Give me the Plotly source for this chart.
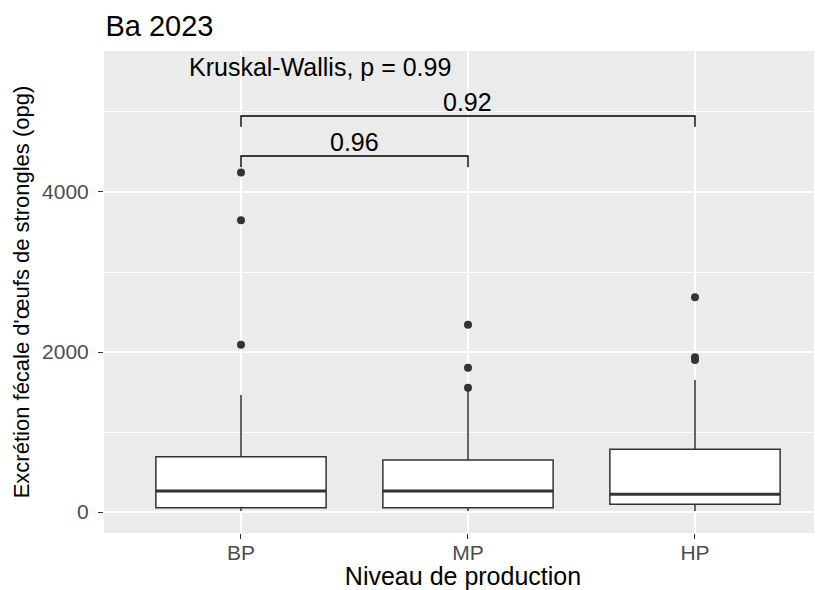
import plotly.graph_objects as go

# data (values in opg)
categories = ["BP", "MP", "HP"]
q1 = [54, 54, 96]
median = [262, 262, 221]
q3 = [691, 650, 785]
lower_whisker = [14, 14, 14]
upper_whisker = [1462, 1530, 1650]
outliers = [[2091, 3646, 4242], [1554, 1804, 2342], [1900, 1935, 2683]]

# pairwise comparisons (wilcoxon p values)
comp_from = ["BP", "BP"]
comp_to = ["MP", "HP"]
comp_p = ["0.96", "0.92"]
comp_y = [4450, 4950]
comp_tip = [4310, 4815]

kw_label = "Kruskal-Wallis, p = 0.99"
kw_x = -0.24
kw_y = 5566

FONT = "Liberation Sans, Arial, sans-serif"
DARK = "#333333"

fig = go.Figure()

for i, cat in enumerate(categories):
    fig.add_trace(go.Box(
        x=[i], q1=[q1[i]], median=[median[i]], q3=[q3[i]],
        lowerfence=[lower_whisker[i]], upperfence=[upper_whisker[i]],
        width=0.75, whiskerwidth=0, fillcolor="white",
        line=dict(color=DARK, width=1.5), showlegend=False, hoverinfo="skip"))
    # thicker median like ggplot
    fig.add_trace(go.Scatter(
        x=[i - 0.375, i + 0.375], y=[median[i], median[i]], mode="lines",
        line=dict(color=DARK, width=3), showlegend=False, hoverinfo="skip"))
    fig.add_trace(go.Scatter(
        x=[i] * len(outliers[i]), y=outliers[i], mode="markers",
        marker=dict(color=DARK, size=8), showlegend=False))

# comparison brackets
for a, b, p, y, tip in zip(comp_from, comp_to, comp_p, comp_y, comp_tip):
    xa = categories.index(a)
    xb = categories.index(b)
    fig.add_trace(go.Scatter(
        x=[xa, xa, xb, xb], y=[tip, y, y, tip], mode="lines",
        line=dict(color="black", width=1.4), showlegend=False, hoverinfo="skip"))
    fig.add_annotation(x=(xa + xb) / 2, y=y, text=p, showarrow=False,
                       yanchor="bottom", yshift=-2,
                       font=dict(family=FONT, size=25, color="black"))

fig.add_annotation(x=kw_x, y=kw_y, text=kw_label, showarrow=False,
                   xanchor="left", yanchor="middle",
                   font=dict(family=FONT, size=25, color="black"))

# the page body has an 8px margin, so the figure is 8px smaller on each axis
W, H = 814, 582
fig.update_layout(
    width=W, height=H,
    margin=dict(l=96, r=0, t=43, b=57),
    paper_bgcolor="white", plot_bgcolor="#EBEBEB",
    font=dict(family=FONT),
    title=dict(text="Ba 2023", x=0.002, xanchor="left", xref="paper",
               y=1 - 18 / H, yref="container", yanchor="middle",
               font=dict(family=FONT, size=29, color="black")),
)

fig.update_xaxes(
    range=[-0.6035, 2.5595], tickvals=[0, 1, 2], ticktext=categories,
    showgrid=True, gridcolor="white", gridwidth=1.6, zeroline=False,
    ticks="outside", ticklen=5, tickcolor=DARK, tickwidth=1.2,
    ticklabelstandoff=-4,
    tickfont=dict(family=FONT, size=21, color="#4D4D4D"),
    title=dict(text="Niveau de production", standoff=11,
               font=dict(family=FONT, size=25, color="black")),
    automargin=False)

fig.update_yaxes(
    range=[-262, 5762], tickvals=[0, 2000, 4000],
    showgrid=True, gridcolor="white", gridwidth=1.6, zeroline=False,
    minor=dict(tickvals=[1000, 3000, 5000], showgrid=True, gridcolor="white", gridwidth=0.8),
    ticks="outside", ticklen=5, tickcolor=DARK, tickwidth=1.2,
    ticklabelstandoff=5,
    tickfont=dict(family=FONT, size=21, color="#4D4D4D"),
    title=dict(text="Excrétion fécale d'œufs de strongles (opg)", standoff=6,
               font=dict(family=FONT, size=22, color="black")),
    automargin=False)

fig.write_html("out.html")
